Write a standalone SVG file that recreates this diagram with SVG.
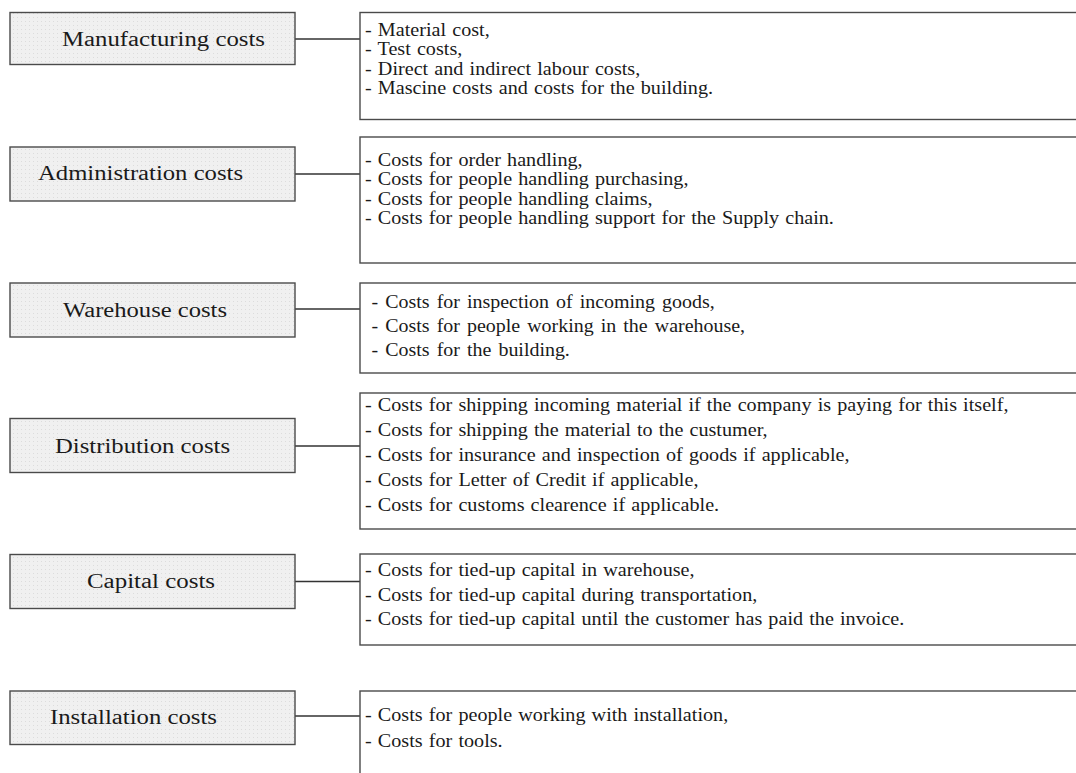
<svg xmlns="http://www.w3.org/2000/svg" width="1076" height="773" viewBox="0 0 1076 773">
<defs>
<pattern id="dots" width="4" height="4" patternUnits="userSpaceOnUse">
<rect width="4" height="4" fill="#f0f0f0"/>
<rect x="1" y="1" width="1" height="1" fill="#dcdcdc"/>
</pattern>
<style>
.lbl{fill:url(#dots);stroke:#4a4a4a;stroke-width:1.4}
.box{fill:#ffffff;stroke:#4a4a4a;stroke-width:1.4}
.conn line{stroke:#333;stroke-width:1.3}
.lt{font-family:"Liberation Serif","Times New Roman",serif;font-size:20px;fill:#1a1a1a}
.it{font-family:"Liberation Serif","Times New Roman",serif;font-size:18.5px;fill:#1a1a1a;word-spacing:1px}
.it3{font-family:"Liberation Serif","Times New Roman",serif;font-size:19px;fill:#1a1a1a;word-spacing:2px}
</style>
</defs>
<rect width="1076" height="773" fill="#ffffff"/>
<g id="connectors" class="conn">
<line x1="295" y1="39" x2="360" y2="39"/>
<line x1="295" y1="174" x2="360" y2="174"/>
<line x1="295" y1="309" x2="360" y2="309"/>
<line x1="295" y1="446" x2="360" y2="446"/>
<line x1="295" y1="581.5" x2="360" y2="581.5"/>
<line x1="295" y1="716" x2="360" y2="716"/>
</g>
<g id="manufacturing">
<rect class="lbl" x="10" y="12.5" width="285" height="52"/>
<text class="lt" x="62" y="45.5" textLength="203" lengthAdjust="spacingAndGlyphs">Manufacturing costs</text>
<rect class="box" x="360" y="12.5" width="730" height="107"/>
<g class="it" transform="translate(365,0) scale(1.09,1)">
<text x="0" y="36">- Material cost,</text>
<text x="0" y="55.5">- Test costs,</text>
<text x="0" y="75">- Direct and indirect labour costs,</text>
<text x="0" y="94.5">- Mascine costs and costs for the building.</text>
</g>
</g>
<g id="administration">
<rect class="lbl" x="10" y="147" width="285" height="54"/>
<text class="lt" x="38" y="180" textLength="205" lengthAdjust="spacingAndGlyphs">Administration costs</text>
<rect class="box" x="360" y="137" width="730" height="126"/>
<g class="it" transform="translate(365,0) scale(1.09,1)">
<text x="0" y="166">- Costs for order handling,</text>
<text x="0" y="185.5">- Costs for people handling purchasing,</text>
<text x="0" y="205">- Costs for people handling claims,</text>
<text x="0" y="224.5">- Costs for people handling support for the Supply chain.</text>
</g>
</g>
<g id="warehouse">
<rect class="lbl" x="10" y="283" width="285" height="54"/>
<text class="lt" x="63" y="316.5" textLength="164" lengthAdjust="spacingAndGlyphs">Warehouse costs</text>
<rect class="box" x="360" y="283" width="730" height="90"/>
<g class="it3" transform="translate(371.5,0) scale(1.05,1)">
<text x="0" y="308">- Costs for inspection of incoming goods,</text>
<text x="0" y="332.5">- Costs for people working in the warehouse,</text>
<text x="0" y="356.5">- Costs for the building.</text>
</g>
</g>
<g id="distribution">
<rect class="lbl" x="10" y="418.5" width="285" height="54"/>
<text class="lt" x="55" y="452.5" textLength="175" lengthAdjust="spacingAndGlyphs">Distribution costs</text>
<rect class="box" x="360" y="393" width="730" height="136"/>
<g class="it" transform="translate(365,0) scale(1.09,1)">
<text x="0" y="411">- Costs for shipping incoming material if the company is paying for this itself,</text>
<text x="0" y="436">- Costs for shipping the material to the custumer,</text>
<text x="0" y="461">- Costs for insurance and inspection of goods if applicable,</text>
<text x="0" y="486">- Costs for Letter of Credit if applicable,</text>
<text x="0" y="511">- Costs for customs clearence if applicable.</text>
</g>
</g>
<g id="capital">
<rect class="lbl" x="10" y="554.5" width="285" height="54"/>
<text class="lt" x="87" y="588" textLength="128" lengthAdjust="spacingAndGlyphs">Capital costs</text>
<rect class="box" x="360" y="554" width="730" height="91"/>
<g class="it" transform="translate(365,0) scale(1.09,1)">
<text x="0" y="576.5">- Costs for tied-up capital in warehouse,</text>
<text x="0" y="601">- Costs for tied-up capital during transportation,</text>
<text x="0" y="625.5">- Costs for tied-up capital until the customer has paid the invoice.</text>
</g>
</g>
<g id="installation">
<rect class="lbl" x="10" y="691" width="285" height="53.5"/>
<text class="lt" x="50" y="724" textLength="167" lengthAdjust="spacingAndGlyphs">Installation costs</text>
<rect class="box" x="360" y="691" width="730" height="100"/>
<g class="it" transform="translate(365,0) scale(1.09,1)">
<text x="0" y="721">- Costs for people working with installation,</text>
<text x="0" y="747.5">- Costs for tools.</text>
</g>
</g>
</svg>
